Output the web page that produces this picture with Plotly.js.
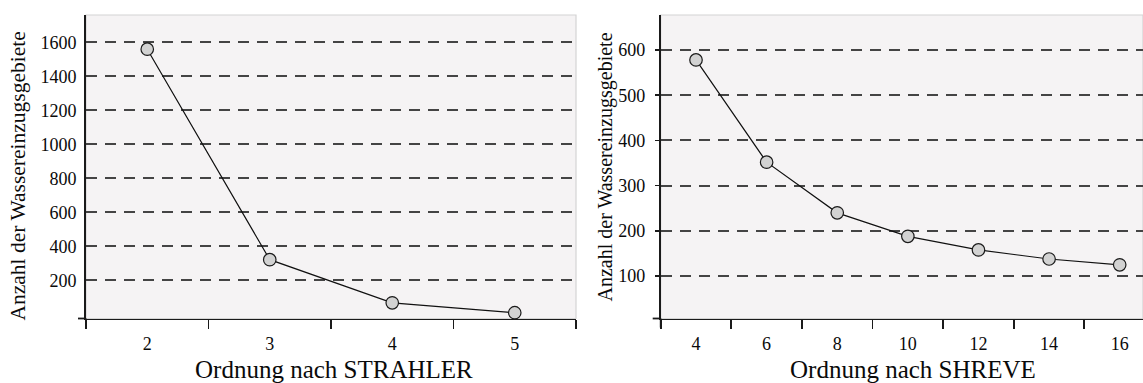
<!DOCTYPE html>
<html>
<head>
<meta charset="utf-8">
<script src="https://cdn.plot.ly/plotly-3.0.1.min.js"></script>
<style>html,body{margin:0;padding:0;background:#fff;}#chart{width:1143px;height:383px;}</style>
</head>
<body>
<div id="chart"></div>
<script>
// Data
const strahlerOrder = [2, 3, 4, 5];
const strahlerCount = [1560, 322, 68, 10];
const shreveOrder = [4, 6, 8, 10, 12, 14, 16];
const shreveCount = [578, 352, 240, 188, 158, 138, 125];
const strahlerTicks = [200, 400, 600, 800, 1000, 1200, 1400, 1600];
const shreveTicks = [100, 200, 300, 400, 500, 600];

const yTitle = 'Anzahl der Wassereinzugsgebiete';
const xTitleLeft = 'Ordnung nach STRAHLER';
const xTitleRight = 'Ordnung nach SHREVE';

const W = 1143, H = 383;
const FONT = '"Liberation Serif", "DejaVu Serif", serif';
const TXT = '#0a0a0a';
const markerStyle = {size: 12.5, color: '#d2d2d2', line: {color: '#1a1a1a', width: 1.2}};
const lineStyle = {color: '#111', width: 1.2};

const traces = [
  {x: strahlerOrder, y: strahlerCount, xaxis: 'x', yaxis: 'y', type: 'scatter',
   mode: 'lines+markers', marker: markerStyle, line: lineStyle, cliponaxis: false, hoverinfo: 'skip'},
  {x: shreveOrder, y: shreveCount, xaxis: 'x2', yaxis: 'y2', type: 'scatter',
   mode: 'lines+markers', marker: markerStyle, line: lineStyle, cliponaxis: false, hoverinfo: 'skip'}
];

const px = v => v / W;
const py = v => 1 - v / H;

const tickFont = {family: FONT, size: 18, color: TXT};
const gridCommon = {showgrid: true, gridcolor: '#444444', gridwidth: 2, griddash: '11px,8px'};
const axisLine = {showline: true, linecolor: '#1a1a1a', linewidth: 1.8, zeroline: false};

const layout = {
  width: W, height: H,
  margin: {l: 0, r: 0, t: 0, b: 0},
  paper_bgcolor: '#ffffff',
  plot_bgcolor: '#f5f3f4',
  showlegend: false,
  font: {family: FONT, color: TXT},
  xaxis: Object.assign({}, axisLine, {
    domain: [px(86), px(576)], anchor: 'y', range: [1.5, 5.5],
    tickmode: 'linear', tick0: 2, dtick: 1, ticks: '', showgrid: false,
    tickfont: tickFont, ticklabelstandoff: 8,
    minor: {tickmode: 'linear', tick0: 1.5, dtick: 1, ticks: 'outside', ticklen: 9, tickwidth: 1.8, tickcolor: '#1a1a1a', showgrid: false}
  }),
  yaxis: Object.assign({}, axisLine, gridCommon, {
    domain: [py(318.5), py(15)], anchor: 'x', range: [-24, 1761],
    tickmode: 'array', tickvals: strahlerTicks, ticks: '',
    tickfont: tickFont, ticklabelstandoff: 4
  }),
  xaxis2: Object.assign({}, axisLine, {
    domain: [px(660.7), 1], anchor: 'y2', range: [3, 16.66],
    tickmode: 'linear', tick0: 4, dtick: 2, ticks: '', showgrid: false,
    tickfont: tickFont, ticklabelstandoff: 8,
    minor: {tickmode: 'linear', tick0: 3, dtick: 2, ticks: 'outside', ticklen: 9, tickwidth: 1.8, tickcolor: '#1a1a1a', showgrid: false}
  }),
  yaxis2: Object.assign({}, axisLine, gridCommon, {
    domain: [py(318.5), py(15)], anchor: 'x2', range: [6.4, 677.4],
    tickmode: 'array', tickvals: shreveTicks, ticks: 'outside', ticklen: 4, tickwidth: 1.5, tickcolor: '#1a1a1a',
    tickfont: tickFont, ticklabelstandoff: 6
  }),
  shapes: [
    {type: 'rect', xref: 'x domain', yref: 'y domain', x0: 0, x1: 1, y0: 0, y1: 1, layer: 'below', line: {color: '#d4d4d4', width: 1.2}},
    {type: 'rect', xref: 'x2 domain', yref: 'y2 domain', x0: 0, x1: 1, y0: 0, y1: 1, layer: 'below', line: {color: '#d4d4d4', width: 1.2}},
    {type: 'line', xref: 'x domain', yref: 'y domain', xsizemode: 'pixel', xanchor: 0, x0: -8, x1: 0, y0: 0, y1: 0, line: {color: '#1a1a1a', width: 1.8}},
    {type: 'line', xref: 'x domain', yref: 'y domain', ysizemode: 'pixel', yanchor: 0, y0: -9, y1: 0, x0: 0, x1: 0, line: {color: '#1a1a1a', width: 1.8}},
    {type: 'line', xref: 'x2 domain', yref: 'y2 domain', xsizemode: 'pixel', xanchor: 0, x0: -8, x1: 0, y0: 0, y1: 0, line: {color: '#1a1a1a', width: 1.8}},
    {type: 'line', xref: 'x2 domain', yref: 'y2 domain', ysizemode: 'pixel', yanchor: 0, y0: -9, y1: 0, x0: 0, x1: 0, line: {color: '#1a1a1a', width: 1.8}}
  ],
  annotations: [
    {text: yTitle, xref: 'paper', yref: 'paper', x: px(17.5), y: py(176), textangle: -90,
     showarrow: false, xanchor: 'center', yanchor: 'middle', font: {family: FONT, size: 21.5, color: TXT}},
    {text: yTitle, xref: 'paper', yref: 'paper', x: px(604.5), y: py(167), textangle: -90,
     showarrow: false, xanchor: 'center', yanchor: 'middle', font: {family: FONT, size: 20, color: TXT}},
    {text: xTitleLeft, xref: 'paper', yref: 'paper', x: px(334), y: py(369),
     showarrow: false, xanchor: 'center', yanchor: 'middle', font: {family: FONT, size: 25, color: TXT}},
    {text: xTitleRight, xref: 'paper', yref: 'paper', x: px(913), y: py(369),
     showarrow: false, xanchor: 'center', yanchor: 'middle', font: {family: FONT, size: 25, color: TXT}}
  ]
};

Plotly.newPlot('chart', traces, layout, {staticPlot: true, displayModeBar: false});
</script>
</body>
</html>
